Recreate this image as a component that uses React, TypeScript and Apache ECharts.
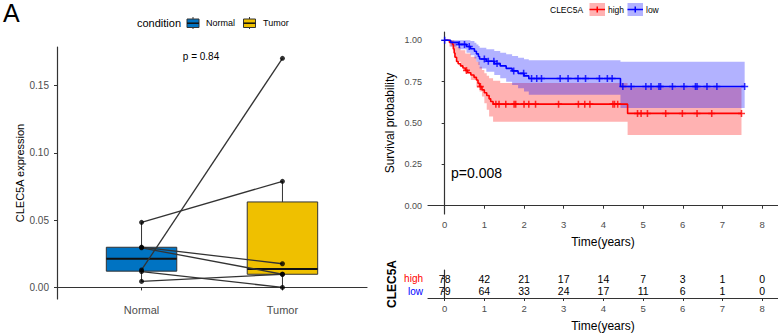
import React, { useEffect, useRef } from 'react';
import * as echarts from 'echarts';

// ---------- Paired expression panel ----------
const groups = ['Normal', 'Tumor'];
const groupColors = ['#0073C2', '#EFC000'];
// matched samples: normalExpr[i] pairs with tumorExpr[i]
const normalExpr = [0.0484, 0.013, 0.03, 0.0295, 0.0118, 0.0045];
const tumorExpr = [0.0789, 0.1704, 0.0176, 0.0098, 0.0, 0.0098];
const exprTicks = [0, 0.05, 0.1, 0.15];
const pairedPLabel = 'p = 0.84';

// ---------- Kaplan-Meier panel ----------
// [time (years), survival after event]
const highSteps = [
  [0, 1.0], [0.12, 0.987], [0.2, 0.974], [0.22, 0.949], [0.24, 0.923], [0.26, 0.897],
  [0.3, 0.872], [0.34, 0.858], [0.4, 0.845], [0.46, 0.832], [0.52, 0.818], [0.58, 0.804],
  [0.66, 0.79], [0.74, 0.776], [0.8, 0.76], [0.84, 0.74], [0.88, 0.72], [0.94, 0.7],
  [1.0, 0.683], [1.06, 0.666], [1.12, 0.646], [1.16, 0.63], [1.22, 0.614], [4.61, 0.558],
];
const lowSteps = [
  [0, 1.0], [0.15, 0.987], [0.35, 0.975], [0.55, 0.962], [0.65, 0.949], [0.75, 0.934],
  [0.8, 0.918], [0.85, 0.902], [0.88, 0.887], [1.05, 0.873], [1.25, 0.859], [1.4, 0.845],
  [1.55, 0.83], [1.7, 0.815], [1.85, 0.8], [2.0, 0.785], [2.12, 0.769], [4.43, 0.721],
];
const highEnd = 7.48;
const lowEnd = 7.56;
const highCensor = [
  0.55, 0.9, 1.29, 1.37, 1.54, 1.75, 1.79, 2.0, 2.12, 2.29, 2.87, 3.37, 3.53, 3.66,
  4.24, 4.28, 4.36, 4.86, 4.95, 5.11, 5.57, 5.99, 6.36, 6.73, 7.48,
];
const lowCensor = [
  0, 0.37, 0.5, 0.62, 1.0, 1.1, 1.24, 1.32, 1.74, 1.99, 2.19, 2.32, 2.44, 2.91, 3.11,
  3.36, 3.55, 3.9, 4.1, 4.22, 4.49, 4.7, 5.07, 5.2, 5.4, 5.44, 5.74, 6.03, 6.32, 6.36,
  6.61, 6.86, 7.56,
];
// [time, lower, upper] confidence limits
const highCI = [
  [0, 1.0, 1.0], [0.12, 0.962, 1.0], [0.2, 0.94, 1.0], [0.24, 0.9, 0.99], [0.3, 0.87, 0.96],
  [0.4, 0.84, 0.94], [0.52, 0.8, 0.92], [0.66, 0.76, 0.9], [0.8, 0.72, 0.87],
  [0.88, 0.69, 0.84], [0.94, 0.66, 0.82], [1.0, 0.62, 0.8], [1.06, 0.58, 0.785],
  [1.12, 0.54, 0.77], [1.22, 0.508, 0.755], [1.4, 0.508, 0.742], [4.61, 0.428, 0.715],
];
const lowCI = [
  [0, 1.0, 1.0], [0.15, 0.962, 1.0], [0.35, 0.945, 1.0], [0.55, 0.925, 1.0],
  [0.65, 0.91, 0.995], [0.75, 0.89, 0.985], [0.8, 0.87, 0.975], [0.85, 0.85, 0.965],
  [0.88, 0.83, 0.955], [1.05, 0.81, 0.945], [1.25, 0.79, 0.935], [1.4, 0.77, 0.925],
  [1.55, 0.75, 0.915], [1.7, 0.73, 0.905], [1.85, 0.71, 0.895], [2.0, 0.69, 0.885],
  [2.12, 0.67, 0.88], [4.43, 0.59, 0.87],
];
const survTicks = [0, 0.25, 0.5, 0.75, 1.0];
const yearTicks = [0, 1, 2, 3, 4, 5, 6, 7, 8];
const highAtRisk = [78, 42, 21, 17, 14, 7, 3, 1, 0];
const lowAtRisk = [79, 64, 33, 24, 17, 11, 6, 1, 0];
const logRankLabel = 'p=0.008';

const FONT = '"Liberation Sans", Arial, sans-serif';
const RED = '#FF0000';
const BLUE = '#0000FF';
const PLUS = 'path://M3.5,0h2v3.5h3.5v2h-3.5v3.5h-2v-3.5h-3.5v-2h3.5z';

function quantile(sorted: number[], p: number) {
  const pos = (sorted.length - 1) * p;
  const lo = Math.floor(pos);
  const hi = Math.ceil(pos);
  return sorted[lo] + (sorted[hi] - sorted[lo]) * (pos - lo);
}

function boxStats(values: number[]) {
  const s = [...values].sort((a, b) => a - b);
  const q1 = quantile(s, 0.25);
  const md = quantile(s, 0.5);
  const q3 = quantile(s, 0.75);
  const iqr = q3 - q1;
  const lo = Math.min(...s.filter((v) => v >= q1 - 1.5 * iqr));
  const hi = Math.max(...s.filter((v) => v <= q3 + 1.5 * iqr));
  return [lo, q1, md, q3, hi];
}

function survivalAt(steps: number[][], t: number) {
  let s = steps[0][1];
  for (const [time, val] of steps) if (time <= t) s = val;
  return s;
}

const axisLine = { show: true, lineStyle: { color: '#333', width: 1.2 } };
const axisTick = (values: number[]) => ({
  show: true, length: 3, customValues: values, lineStyle: { color: '#333', width: 1 },
});

function buildOption() {
  const boxData = [
    [1, ...boxStats(normalExpr)],
    [2, ...boxStats(tumorExpr)],
  ];

  const pairSeries = normalExpr.map((n, i) => ({
    type: 'line', xAxisIndex: 0, yAxisIndex: 0, z: 3,
    data: [[1, n], [2, tumorExpr[i]]],
    symbol: 'none',
    lineStyle: { color: '#333', width: 1.3 },
    silent: true,
  }));

  const pointData = [
    ...normalExpr.map((v) => [1, v]),
    ...tumorExpr.map((v) => [2, v]),
  ];

  // confidence band: one stepped polygon through the axis scale
  const bandSeries = (ci: number[][], end: number, color: string) => {
    const rows = [...ci, [end, ci[ci.length - 1][1], ci[ci.length - 1][2]]];
    return {
      type: 'custom', xAxisIndex: 1, yAxisIndex: 1, z: 1, silent: true,
      data: [[rows[0][0], rows[0][2]]],
      renderItem: (_params: any, api: any) => {
        const upper: number[][] = [];
        const lower: number[][] = [];
        for (let i = 0; i < rows.length - 1; i++) {
          const [t0, lo, hi] = rows[i];
          const t1 = rows[i + 1][0];
          upper.push(api.coord([t0, hi]), api.coord([t1, hi]));
          lower.push(api.coord([t0, lo]), api.coord([t1, lo]));
        }
        return {
          type: 'polygon',
          shape: { points: [...upper, ...lower.reverse()] },
          style: { fill: color },
        };
      },
    };
  };

  const curve = (steps: number[][], end: number, color: string) => ({
    type: 'line', xAxisIndex: 1, yAxisIndex: 1, step: 'end', z: 4,
    data: [...steps, [end, steps[steps.length - 1][1]]],
    symbol: 'none', lineStyle: { color, width: 1.6 }, silent: true,
  });

  const censor = (steps: number[][], times: number[], color: string) => ({
    type: 'scatter', xAxisIndex: 1, yAxisIndex: 1, z: 5,
    data: times.map((t) => [t, survivalAt(steps, t)]),
    symbol: PLUS, symbolSize: 7, itemStyle: { color }, silent: true,
  });

  const riskRows = [
    ...highAtRisk.map((n, i) => [yearTicks[i], 2, n]),
    ...lowAtRisk.map((n, i) => [yearTicks[i], 1, n]),
  ];

  return {
    animation: false,
    backgroundColor: '#ffffff',
    textStyle: { fontFamily: FONT },
    grid: [
      { left: 57, top: 47, width: 310, height: 252 },
      { left: 428, top: 32, width: 354, height: 182 },
      { left: 428, top: 270, width: 354, height: 29 },
    ],
    xAxis: [
      {
        type: 'value', gridIndex: 0, min: 0.4, max: 2.6,
        axisLine, axisTick: axisTick([1, 2]), splitLine: { show: false },
        axisLabel: {
          customValues: [1, 2], formatter: (v: number) => groups[Math.round(v) - 1],
          color: '#4d4d4d', fontSize: 11, margin: 5, fontFamily: FONT,
        },
      },
      {
        type: 'value', gridIndex: 1, min: -0.42, max: 8.4,
        axisLine, axisTick: axisTick(yearTicks), splitLine: { show: false },
        axisLabel: { customValues: yearTicks, color: '#4d4d4d', fontSize: 9.5, margin: 5, fontFamily: FONT },
        name: 'Time(years)', nameLocation: 'middle', nameGap: 22,
        nameTextStyle: { color: '#000', fontSize: 12, fontFamily: FONT },
      },
      {
        type: 'value', gridIndex: 2, min: -0.42, max: 8.4,
        axisLine, axisTick: axisTick(yearTicks), splitLine: { show: false },
        axisLabel: { customValues: yearTicks, color: '#4d4d4d', fontSize: 9.5, margin: 5, fontFamily: FONT },
        name: 'Time(years)', nameLocation: 'middle', nameGap: 22,
        nameTextStyle: { color: '#000', fontSize: 12, fontFamily: FONT },
      },
    ],
    yAxis: [
      {
        type: 'value', gridIndex: 0, min: -0.0086, max: 0.1788,
        axisLine, axisTick: axisTick(exprTicks), splitLine: { show: false },
        axisLabel: {
          customValues: exprTicks, formatter: (v: number) => v.toFixed(2),
          color: '#4d4d4d', fontSize: 10, margin: 8, fontFamily: FONT,
        },
        name: 'CLEC5A expression', nameLocation: 'middle', nameGap: 32,
        nameTextStyle: { color: '#000', fontSize: 11, fontFamily: FONT },
      },
      {
        type: 'value', gridIndex: 1, min: -0.05, max: 1.05,
        axisLine, axisTick: axisTick(survTicks), splitLine: { show: false },
        axisLabel: {
          customValues: survTicks, formatter: (v: number) => v.toFixed(2),
          color: '#4d4d4d', fontSize: 9, margin: 6, fontFamily: FONT,
        },
        name: 'Survival probability', nameLocation: 'middle', nameGap: 32,
        nameTextStyle: { color: '#000', fontSize: 12, fontFamily: FONT },
      },
      {
        type: 'value', gridIndex: 2, min: 0.45, max: 2.7,
        axisLine, axisTick: axisTick([1, 2]), splitLine: { show: false },
        axisLabel: {
          customValues: [1, 2],
          formatter: (v: number) => (Math.round(v) === 2 ? '{h|high}' : '{l|low}'),
          margin: 5,
          rich: {
            h: { color: RED, fontSize: 10, fontFamily: FONT },
            l: { color: BLUE, fontSize: 10, fontFamily: FONT },
          },
        },
        name: 'CLEC5A', nameLocation: 'middle', nameGap: 30,
        nameTextStyle: { color: '#000', fontSize: 12, fontWeight: 'bold', fontFamily: FONT },
      },
    ],
    series: [
      {
        type: 'custom', xAxisIndex: 0, yAxisIndex: 0, z: 2, silent: true,
        data: boxData,
        renderItem: (params: any, api: any) => {
          const x = api.value(0);
          const mn = api.value(1);
          const q1 = api.value(2);
          const md = api.value(3);
          const q3 = api.value(4);
          const mx = api.value(5);
          const half = 0.25;
          const tl = api.coord([x - half, q3]);
          const br = api.coord([x + half, q1]);
          const top = api.coord([x, mx]);
          const bot = api.coord([x, mn]);
          const mdL = api.coord([x - half, md]);
          const mdR = api.coord([x + half, md]);
          const stroke = { stroke: '#333', lineWidth: 1 };
          return {
            type: 'group',
            children: [
              { type: 'line', shape: { x1: top[0], y1: top[1], x2: top[0], y2: tl[1] }, style: stroke },
              { type: 'line', shape: { x1: bot[0], y1: bot[1], x2: bot[0], y2: br[1] }, style: stroke },
              {
                type: 'rect',
                shape: { x: tl[0], y: tl[1], width: br[0] - tl[0], height: br[1] - tl[1] },
                style: { fill: groupColors[params.dataIndex], stroke: '#333', lineWidth: 1 },
              },
              { type: 'line', shape: { x1: mdL[0], y1: mdL[1], x2: mdR[0], y2: mdR[1] }, style: { stroke: '#111', lineWidth: 2 } },
            ],
          };
        },
      },
      ...pairSeries,
      {
        type: 'scatter', xAxisIndex: 0, yAxisIndex: 0, z: 4, silent: true,
        data: pointData, symbol: 'circle', symbolSize: 5, itemStyle: { color: '#000' },
      },
      bandSeries(highCI, highEnd, 'rgba(255,0,0,0.3)'),
      bandSeries(lowCI, lowEnd, 'rgba(0,0,255,0.3)'),
      curve(highSteps, highEnd, RED),
      curve(lowSteps, lowEnd, BLUE),
      censor(highSteps, highCensor, RED),
      censor(lowSteps, lowCensor, BLUE),
      {
        type: 'custom', xAxisIndex: 2, yAxisIndex: 2, silent: true,
        data: riskRows,
        renderItem: (_params: any, api: any) => {
          const p = api.coord([api.value(0), api.value(1)]);
          return {
            type: 'text', x: p[0], y: p[1],
            style: {
              text: String(api.value(2)), fill: '#000', fontSize: 10.5, fontFamily: FONT,
              align: 'center', verticalAlign: 'middle',
            },
          };
        },
      },
    ],
    graphic: [
      {
        type: 'text', left: 3, top: 0,
        style: { text: 'A', fontSize: 25, fill: '#000', fontFamily: FONT },
      },
      // expression legend
      { type: 'text', x: 137, y: 23, style: { text: 'condition', fontSize: 11, fill: '#000', fontFamily: FONT, verticalAlign: 'middle' } },
      { type: 'line', shape: { x1: 193, y1: 17, x2: 193, y2: 29 }, style: { stroke: '#333', lineWidth: 1 } },
      { type: 'rect', shape: { x: 187, y: 19, width: 12, height: 8.5 }, style: { fill: groupColors[0], stroke: '#333', lineWidth: 1 } },
      { type: 'line', shape: { x1: 187, y1: 23.2, x2: 199, y2: 23.2 }, style: { stroke: '#111', lineWidth: 1.5 } },
      { type: 'text', x: 206, y: 23, style: { text: 'Normal', fontSize: 9, fill: '#000', fontFamily: FONT, verticalAlign: 'middle' } },
      { type: 'line', shape: { x1: 249.5, y1: 17, x2: 249.5, y2: 29 }, style: { stroke: '#333', lineWidth: 1 } },
      { type: 'rect', shape: { x: 243.5, y: 19, width: 12, height: 8.5 }, style: { fill: groupColors[1], stroke: '#333', lineWidth: 1 } },
      { type: 'line', shape: { x1: 243.5, y1: 23.2, x2: 255.5, y2: 23.2 }, style: { stroke: '#111', lineWidth: 1.5 } },
      { type: 'text', x: 263, y: 23, style: { text: 'Tumor', fontSize: 9, fill: '#000', fontFamily: FONT, verticalAlign: 'middle' } },
      { type: 'text', x: 201, y: 56, style: { text: pairedPLabel, fontSize: 10, fill: '#000', fontFamily: FONT, align: 'center', verticalAlign: 'middle' } },
      // survival legend
      { type: 'text', x: 550, y: 9.5, style: { text: 'CLEC5A', fontSize: 8.5, fill: '#000', fontFamily: FONT, verticalAlign: 'middle' } },
      { type: 'rect', shape: { x: 589.5, y: 3, width: 15.5, height: 13 }, style: { fill: 'rgba(255,0,0,0.3)' } },
      { type: 'line', shape: { x1: 589.5, y1: 9.5, x2: 605, y2: 9.5 }, style: { stroke: RED, lineWidth: 1.5 } },
      { type: 'rect', shape: { x: 596.5, y: 6.5, width: 1.5, height: 6 }, style: { fill: RED } },
      { type: 'text', x: 608, y: 9.5, style: { text: 'high', fontSize: 8.5, fill: '#000', fontFamily: FONT, verticalAlign: 'middle' } },
      { type: 'rect', shape: { x: 627.5, y: 3, width: 15.5, height: 13 }, style: { fill: 'rgba(0,0,255,0.3)' } },
      { type: 'line', shape: { x1: 627.5, y1: 9.5, x2: 643, y2: 9.5 }, style: { stroke: BLUE, lineWidth: 1.5 } },
      { type: 'rect', shape: { x: 634.5, y: 6.5, width: 1.5, height: 6 }, style: { fill: BLUE } },
      { type: 'text', x: 646, y: 9.5, style: { text: 'low', fontSize: 8.5, fill: '#000', fontFamily: FONT, verticalAlign: 'middle' } },
      { type: 'text', x: 451, y: 173, style: { text: logRankLabel, fontSize: 14, fill: '#000', fontFamily: FONT, verticalAlign: 'middle' } },
    ],
  };
}

export default function App() {
  const ref = useRef<HTMLDivElement>(null);
  useEffect(() => {
    if (!ref.current) return;
    const chart = echarts.init(ref.current, null, { renderer: 'svg' });
    chart.setOption(buildOption() as any);
    return () => chart.dispose();
  }, []);
  return (
    <div
      ref={ref}
      style={{ position: 'fixed', left: 0, top: 0, width: 778, height: 333, background: '#fff' }}
    />
  );
}
